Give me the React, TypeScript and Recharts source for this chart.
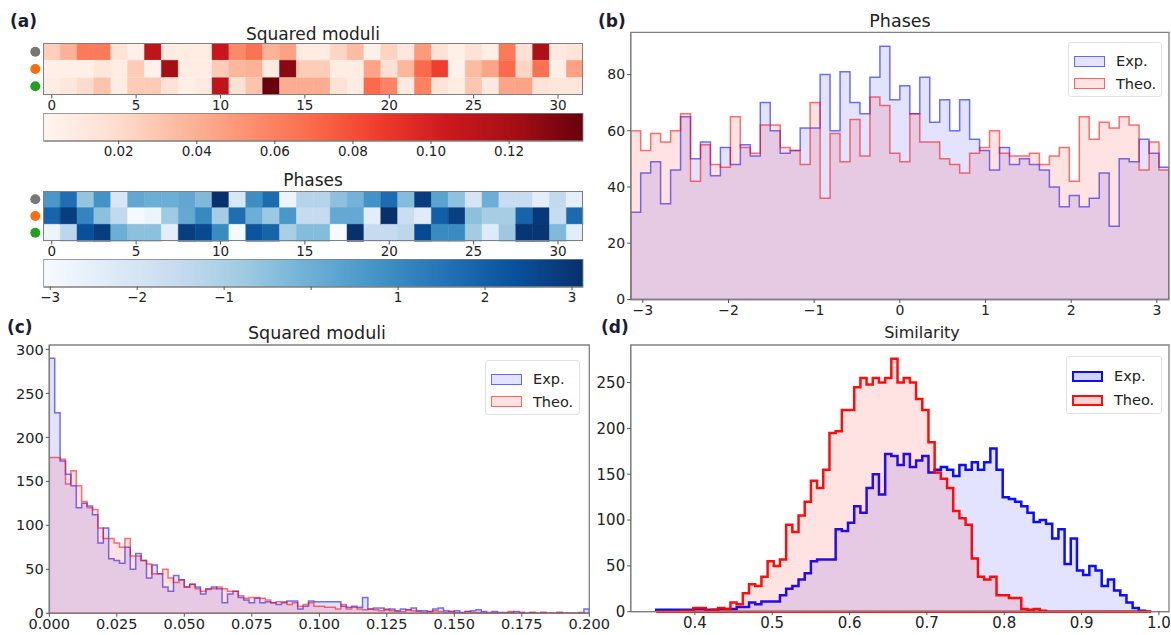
import React from 'react';
import {
  AreaChart, Area, BarChart, Bar, Cell, XAxis, YAxis, ReferenceArea, ReferenceLine,
} from 'recharts';

const FONT = '"DejaVu Sans", "Noto Sans", sans-serif';
const TXT = '#222';
const FRAME = '#808080';

// ---- panel (a): heatmaps ----
const rowNames = ['grey', 'orange', 'green'];
const dotColors: Record<string, string> = { grey: '#777777', orange: '#ff6e0a', green: '#22a022' };
const heatTicks = [0, 5, 10, 15, 20, 25, 30];

const moduli = [
  [0.026, 0.039, 0.063, 0.063, 0.015, 0.005, 0.111, 0.008, 0.008, 0.008, 0.106, 0.056, 0.066, 0.039, 0.046, 0.008,
   0.008, 0.023, 0.035, 0.005, 0.024, 0.012, 0.049, 0.016, 0.006, 0.016, 0.006, 0.063, 0.017, 0.118, 0.010, 0.015],
  [0.006, 0.006, 0.006, 0.013, 0.008, 0.028, 0.003, 0.122, 0.008, 0.008, 0.028, 0.037, 0.039, 0.010, 0.129, 0.027,
   0.027, 0.008, 0.008, 0.045, 0.017, 0.037, 0.070, 0.086, 0.003, 0.035, 0.045, 0.070, 0.023, 0.067, 0.006, 0.046],
  [0.008, 0.013, 0.020, 0.031, 0.008, 0.028, 0.028, 0.016, 0.006, 0.010, 0.110, 0.016, 0.031, 0.139, 0.041, 0.041,
   0.041, 0.016, 0.008, 0.070, 0.059, 0.010, 0.060, 0.015, 0.008, 0.030, 0.010, 0.045, 0.045, 0.016, 0.013, 0.013],
];

const phases = [
  [0.65, 1.64, -0.60, 0.77, -2.09, 0.21, 0.03, 0.03, 0.21, -0.29, 3.13, -2.09, 0.89, 1.70, -2.77, -1.22,
   -1.22, -0.47, -0.10, 0.77, 1.70, -0.35, 2.82, 0.34, -0.53, -2.02, 0.03, -1.59, -1.59, -2.46, -1.47, -2.52],
  [1.89, 2.82, 1.14, -0.47, -1.47, -2.96, -2.77, -0.78, 0.15, 1.02, -0.91, 1.64, 0.03, -0.72, 0.65, -1.53,
   -1.53, 0.15, 0.15, -2.40, 3.13, -1.65, -2.33, 2.01, 2.76, -0.47, -0.91, -0.91, 1.89, 2.94, -1.59, 1.76],
  [-2.77, -1.34, 2.38, 2.82, 0.03, -0.47, -0.47, -2.46, 2.82, 2.51, 0.96, -2.96, 2.26, 1.89, -0.97, -0.35,
   -0.35, -3.08, 3.13, -1.53, -1.53, -1.34, 2.51, 0.96, 0.96, -0.84, -2.27, -0.72, 3.01, 3.01, -0.29, -2.40],
];

const modRange: [number, number] = [0.0007, 0.139];
const phaseRange: [number, number] = [-3.08, 3.13];
const modTicks = [0.02, 0.04, 0.06, 0.08, 0.10, 0.12];
const phaseTicks = [-3, -2, -1, 0, 1, 2, 3];

const REDS = ['#fff5f0', '#fee0d2', '#fcbba1', '#fc9272', '#fb6a4a', '#ef3b2c', '#cb181d', '#a50f15', '#67000d'];
const BLUES = ['#f7fbff', '#deebf7', '#c6dbef', '#9ecae1', '#6baed6', '#4292c6', '#2171b5', '#08519c', '#08306b'];

// ---- panel (b): phases histogram ----
const phaseExp = [31, 45, 49, 34, 46, 65, 50, 56, 44, 54, 48, 55, 51, 70, 60, 52, 53, 61, 61, 80, 60, 81, 70, 66, 79, 90, 71,
  76, 66, 79, 63, 71, 60, 71, 57, 53, 46, 54, 48, 50, 48, 46, 40, 33, 37, 33, 36, 45, 26, 50, 49, 57, 52, 47];
const phaseTheo = [60, 53, 59, 56, 60, 66, 42, 55, 48, 47, 65, 54, 52, 62, 62, 54, 53, 48, 70, 36, 59, 49, 64, 51, 72, 69, 52,
  49, 66, 56, 56, 50, 48, 45, 52, 54, 60, 52, 51, 51, 52, 48, 51, 54, 42, 65, 57, 63, 61, 65, 62, 46, 56, 46];

// ---- panel (c): squared moduli histogram ----
const modExp = [
  290, 228, 173, 158, 145, 120, 125, 122, 112, 80,
  97, 62, 60, 57, 75, 50, 68, 60, 40, 55,
  45, 30, 25, 43, 38, 30, 33, 30, 22, 28,
  30, 28, 12, 22, 25, 18, 15, 12, 17, 12,
  13, 12, 10, 12, 14, 14, 5, 8, 14, 13,
  13, 13, 13, 13, 8, 7, 8, 7, 18, 5,
  6, 6, 4, 5, 3, 5, 4, 6, 3, 3,
  2, 5, 6, 3, 2, 3, 1, 2, 3, 4,
  2, 1, 2, 1, 0, 1, 2, 1, 0, 1,
  0, 1, 0, 0, 1, 0, 0, 0, 1, 5,
];
const modTheo = [
  177, 177, 175, 147, 162, 145, 127, 120, 118, 97,
  85, 85, 80, 75, 85, 65, 65, 60, 56, 45,
  45, 50, 40, 35, 38, 30, 33, 28, 25, 27,
  28, 30, 28, 25, 25, 20, 17, 18, 18, 17,
  15, 12, 13, 13, 10, 12, 8, 10, 12, 8,
  8, 7, 7, 5, 10, 5, 7, 5, 4, 5,
  4, 3, 5, 3, 2, 2, 4, 3, 2, 1,
  2, 3, 2, 1, 2, 1, 0, 2, 1, 1,
  1, 0, 1, 0, 1, 2, 0, 1, 0, 1,
  0, 1, 0, 0, 1, 0, 0, 0, 0, 0,
];

// ---- panel (d): similarity histogram ----
const simExp = [
  2, 2, 2, 2, 2, 2, 3, 3, 2, 2,
  3, 3, 3, 5, 5, 10, 8, 11, 11, 11,
  18, 25, 28, 35, 42, 55, 57, 57, 57, 90,
  88, 97, 115, 108, 135, 150, 128, 172, 170, 160,
  172, 158, 165, 170, 152, 155, 158, 155, 148, 160,
  155, 163, 155, 163, 178, 155, 125, 123, 120, 115,
  108, 98, 100, 96, 80, 90, 52, 80, 45, 40,
  50, 45, 28, 35, 23, 18, 10, 4, 1, 0,
];
const simTheo = [
  0, 0, 0, 0, 1, 1, 4, 4, 1, 2,
  4, 3, 10, 8, 20, 30, 28, 38, 55, 50,
  57, 95, 87, 105, 120, 143, 135, 155, 195, 197,
  220, 220, 245, 255, 248, 255, 250, 255, 276, 250,
  255, 250, 232, 220, 185, 152, 145, 135, 110, 102,
  95, 58, 38, 35, 38, 18, 18, 15, 15, 3,
  2, 3, 1, 0, 0, 0, 0, 0, 0, 0,
  0, 0, 0, 0, 0, 0, 0, 0, 0, 0,
];

const columns = Array.from({ length: 32 }, (_, j) => j);

function hexToRgb(h: string) {
  return [parseInt(h.slice(1, 3), 16), parseInt(h.slice(3, 5), 16), parseInt(h.slice(5, 7), 16)];
}

function cmap(stops: string[], range: [number, number]) {
  return (v: number) => {
    let t = (v - range[0]) / (range[1] - range[0]);
    t = Math.max(0, Math.min(1, t));
    const p = t * (stops.length - 1);
    const i = Math.min(stops.length - 2, Math.floor(p));
    const f = p - i;
    const a = hexToRgb(stops[i]);
    const b = hexToRgb(stops[i + 1]);
    const c = a.map((x, k) => Math.round(x + (b[k] - x) * f));
    return `rgb(${c[0]},${c[1]},${c[2]})`;
  };
}

const redsOf = cmap(REDS, modRange);
const bluesOf = cmap(BLUES, phaseRange);

const minusFmt = (v: number) => (v < 0 ? `\u2212${Math.abs(v)}` : `${v}`);

const DotTick = (props: any) => {
  const { x, y, payload } = props;
  return <circle cx={x} cy={y} r={5} fill={dotColors[payload.value]} />;
};

function Heatmap({ top, height, values, colorOf }: { top: number; height: number; values: number[][]; colorOf: (v: number) => string }) {
  const data = rowNames.map((name) => {
    const o: any = { row: name };
    columns.forEach((j) => { o[`c${j}`] = 1; });
    return o;
  });
  const h = height + 22;
  return (
    <div style={{ position: 'absolute', left: 0, top, width: 600, height: h }}>
      <BarChart width={600} height={h} data={data} layout="vertical"
        margin={{ top: 0, right: 16.7, left: 0, bottom: 0 }} barCategoryGap={0} barGap={0}>
        <XAxis type="number" domain={[0, 32]} ticks={heatTicks.map((t) => t + 0.5)} tickFormatter={(v) => String(v - 0.5)}
          height={22} tickSize={3.5} tick={{ fontSize: 13.5, fill: TXT }} axisLine={false} tickLine={{ stroke: '#555' }} allowDataOverflow />
        <YAxis type="category" dataKey="row" width={43.3} axisLine={false} tickLine={false} tickSize={6} interval={0} tick={<DotTick />} />
        {columns.map((j) => (
          <Bar key={j} dataKey={`c${j}`} stackId="h" isAnimationActive={false}>
            {values.map((row, r) => (
              <Cell key={r} fill={colorOf(row[j])} stroke={colorOf(row[j])} strokeWidth={0.5} />
            ))}
          </Bar>
        ))}
      </BarChart>
      <div style={{ position: 'absolute', left: 43.3, top: 0, width: 540, height, border: `1.5px solid ${FRAME}`, boxSizing: 'border-box', pointerEvents: 'none' }} />
    </div>
  );
}

function Colorbar({ top, id, stops, range, ticks, fmt }: { top: number; id: string; stops: string[]; range: [number, number]; ticks: number[]; fmt: (v: number) => string }) {
  const height = 27.5;
  const h = height + 22;
  const data = [{ name: id, span: range }];
  return (
    <div style={{ position: 'absolute', left: 0, top, width: 600, height: h }}>
      <BarChart width={600} height={h} data={data} layout="vertical"
        margin={{ top: 0, right: 16.7, left: 43.3, bottom: 0 }} barCategoryGap={0}>
        <defs>
          <linearGradient id={id} x1="0" y1="0" x2="1" y2="0">
            {stops.map((c, i) => <stop key={i} offset={i / (stops.length - 1)} stopColor={c} />)}
          </linearGradient>
        </defs>
        <XAxis type="number" domain={range} ticks={ticks} tickFormatter={fmt} height={22} tickSize={3.5}
          tick={{ fontSize: 13.5, fill: TXT }} axisLine={false} tickLine={{ stroke: '#555' }} allowDataOverflow />
        <YAxis type="category" dataKey="name" hide />
        <Bar dataKey="span" fill={`url(#${id})`} stroke={FRAME} strokeWidth={1.5} isAnimationActive={false} />
      </BarChart>
    </div>
  );
}

function stepRows(start: number, width: number, exp: number[], theo: number[]) {
  const rows: { x: number; exp: number; theo: number }[] = [{ x: start, exp: 0, theo: 0 }];
  exp.forEach((v, i) => rows.push({ x: start + i * width, exp: v, theo: theo[i] }));
  const end = start + exp.length * width;
  rows.push({ x: end, exp: exp[exp.length - 1], theo: theo[theo.length - 1] });
  rows.push({ x: end, exp: 0, theo: 0 });
  return rows;
}

function LegendBox({ left, top, width, height, bold, fontSize }: { left: number; top: number; width: number; height: number; bold: boolean; fontSize: number }) {
  const items = [
    { name: 'Exp.', color: '#0000ff' },
    { name: 'Theo.', color: '#ff0000' },
  ];
  return (
    <div style={{
      position: 'absolute', left, top, width, height, boxSizing: 'border-box',
      border: '1px solid #e2e2e2', borderRadius: 3, background: 'rgba(255,255,255,0.85)',
      padding: '7px 0 0 5px', fontFamily: FONT, fontSize, color: TXT,
    }}>
      {items.map((it) => (
        <div key={it.name} style={{ display: 'flex', alignItems: 'center', height: height / 2 - 5 }}>
          <div style={{
            width: 31, height: 11, boxSizing: 'border-box',
            border: `${bold ? 2.5 : 1.5}px solid ${it.color}`, opacity: bold ? 0.95 : 0.6,
            background: it.color === '#0000ff' ? 'rgba(0,0,255,0.18)' : 'rgba(255,0,0,0.18)',
          }} />
          <span style={{ marginLeft: 11 }}>{it.name}</span>
        </div>
      ))}
    </div>
  );
}

type HistProps = {
  left: number; top: number; width: number; height: number;
  marginTop: number; marginRight: number; yWidth: number; xHeight: number;
  rows: { x: number; exp: number; theo: number }[];
  xDomain: [number, number]; xTicks: number[]; xFmt: (v: number) => string;
  yDomain: [number, number]; yTicks: number[];
  bold: boolean; fontSize: number; baseline?: [number, number];
};

function Hist(p: HistProps) {
  const sw = p.bold ? 2.5 : 1.5;
  const so = p.bold ? 0.95 : 0.55;
  return (
    <div style={{ position: 'absolute', left: p.left, top: p.top, width: p.width, height: p.height }}>
      <AreaChart width={p.width} height={p.height} data={p.rows}
        margin={{ top: p.marginTop, right: p.marginRight, left: 0, bottom: 0 }}>
        <XAxis type="number" dataKey="x" domain={p.xDomain} ticks={p.xTicks} tickFormatter={p.xFmt} allowDataOverflow interval={0}
          height={p.xHeight} tickSize={3.5} tick={{ fontSize: p.fontSize, fill: TXT }} axisLine={{ stroke: FRAME, strokeWidth: 1.3 }} tickLine={{ stroke: '#555' }} />
        <YAxis type="number" domain={p.yDomain} ticks={p.yTicks} allowDataOverflow width={p.yWidth} tickSize={3.5} interval={0}
          tick={{ fontSize: p.fontSize, fill: TXT }} axisLine={{ stroke: FRAME, strokeWidth: 1.3 }} tickLine={{ stroke: '#555' }} />
        <Area type="stepAfter" dataKey="exp" stroke="#0000ff" strokeOpacity={so} strokeWidth={sw}
          fill="#0000ff" fillOpacity={0.11} isAnimationActive={false} dot={false} activeDot={false} />
        <Area type="stepAfter" dataKey="theo" stroke="#ff0000" strokeOpacity={so} strokeWidth={sw}
          fill="#ff0000" fillOpacity={0.11} isAnimationActive={false} dot={false} activeDot={false} />
        {p.baseline && (
          <ReferenceLine segment={[{ x: p.baseline[0], y: 0 }, { x: p.baseline[1], y: 0 }]}
            stroke="#ff0000" strokeOpacity={so} strokeWidth={sw} ifOverflow="visible" />
        )}
        <ReferenceArea x1={p.xDomain[0]} x2={p.xDomain[1]} y1={p.yDomain[0]} y2={p.yDomain[1]}
          fill="none" stroke={FRAME} strokeWidth={1.3} ifOverflow="visible" />
      </AreaChart>
    </div>
  );
}

const Title = ({ x, y, size, children }: { x: number; y: number; size: number; children: React.ReactNode }) => (
  <div style={{ position: 'absolute', left: x, top: y - size / 2 - 1, transform: 'translateX(-50%)', fontSize: size, lineHeight: `${size}px`, whiteSpace: 'nowrap', color: TXT }}>
    {children}
  </div>
);

const PanelLabel = ({ x, y, children }: { x: number; y: number; children: React.ReactNode }) => (
  <div style={{ position: 'absolute', left: x, top: y, fontSize: 17, lineHeight: '17px', fontWeight: 'bold', color: '#1c1c30' }}>
    {children}
  </div>
);

export default function App() {
  const pi = Math.PI;
  const phaseRows = stepRows(-pi, (2 * pi) / phaseExp.length, phaseExp, phaseTheo);
  const modRows = stepRows(0, 0.002, modExp, modTheo);
  const simRows = stepRows(0.35, 0.008, simExp, simTheo);

  return (
    <div style={{ position: 'absolute', left: 0, top: 0, width: 1171, height: 635, background: '#fff', fontFamily: FONT, overflow: 'hidden' }}>
      <PanelLabel x={10} y={13}>(a)</PanelLabel>
      <PanelLabel x={598} y={13}>(b)</PanelLabel>
      <PanelLabel x={7} y={319}>(c)</PanelLabel>
      <PanelLabel x={601} y={319}>(d)</PanelLabel>

      <Title x={313} y={35} size={17}>Squared moduli</Title>
      <Heatmap top={43.3} height={52} values={moduli} colorOf={redsOf} />
      <Colorbar top={113} id="redsGrad" stops={REDS} range={modRange} ticks={modTicks} fmt={(v) => v.toFixed(2)} />

      <Title x={313} y={181} size={17}>Phases</Title>
      <Heatmap top={190.7} height={50} values={phases} colorOf={bluesOf} />
      <Colorbar top={259} id="bluesGrad" stops={BLUES} range={phaseRange} ticks={phaseTicks} fmt={(v) => (v === 0 ? '' : minusFmt(v))} />

      <Title x={900} y={23} size={17.5}>Phases</Title>
      <Hist left={590} top={0} width={581} height={330} marginTop={32.3} marginRight={2} yWidth={40.7} xHeight={30.5}
        rows={phaseRows} xDomain={[-pi, pi]} xTicks={[-3, -2, -1, 0, 1, 2, 3]} xFmt={minusFmt}
        yDomain={[0, 95]} yTicks={[0, 20, 40, 60, 80]} bold={false} fontSize={14} />
      <LegendBox left={1068} top={42} width={94} height={55} bold={false} fontSize={14.5} />

      <Title x={317} y={335} size={17.5}>Squared moduli</Title>
      <Hist left={0} top={310} width={625} height={325} marginTop={35} marginRight={35.7} yWidth={49.3} xHeight={21.7}
        rows={modRows} xDomain={[0, 0.2]} xTicks={[0, 0.025, 0.05, 0.075, 0.1, 0.125, 0.15, 0.175, 0.2]} xFmt={(v) => v.toFixed(3)}
        yDomain={[0, 305]} yTicks={[0, 50, 100, 150, 200, 250, 300]} bold={false} fontSize={14.5} baseline={[0, 0.2]} />
      <LegendBox left={485} top={360} width={95} height={55} bold={false} fontSize={14.5} />

      <Title x={922} y={334} size={16}>Similarity</Title>
      <Hist left={590} top={310} width={581} height={325} marginTop={35} marginRight={2} yWidth={40.7} xHeight={23.3}
        rows={simRows} xDomain={[0.317, 1.013]} xTicks={[0.4, 0.5, 0.6, 0.7, 0.8, 0.9, 1.0]} xFmt={(v) => v.toFixed(1)}
        yDomain={[0, 291]} yTicks={[0, 50, 100, 150, 200, 250]} bold={true} fontSize={15} baseline={[0.35, 0.99]} />
      <LegendBox left={1066} top={356} width={96} height={58} bold={true} fontSize={14.5} />
    </div>
  );
}
